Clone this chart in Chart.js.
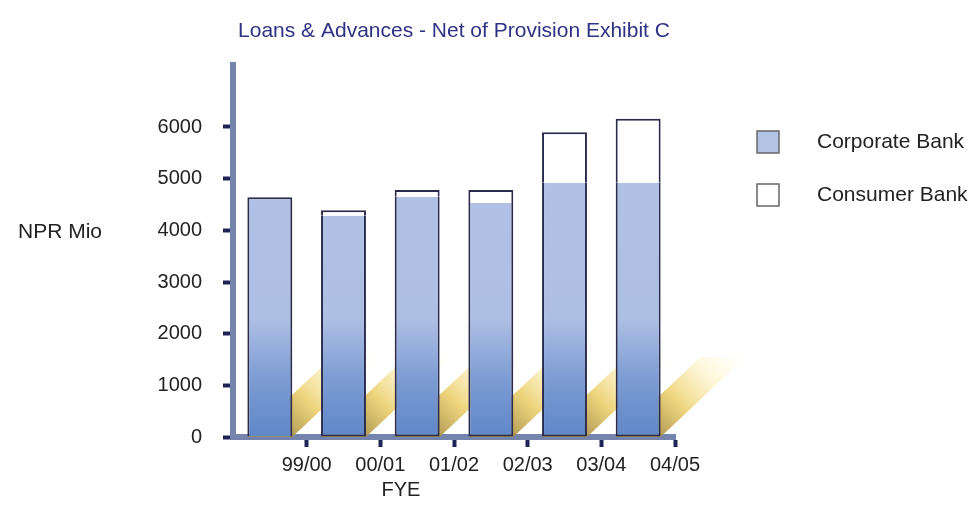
<!DOCTYPE html>
<html>
<head>
<meta charset="utf-8">
<title>Loans & Advances - Net of Provision Exhibit C</title>
<script src="https://cdn.jsdelivr.net/npm/chart.js@4.4.1/dist/chart.umd.min.js"></script>
<style>
  html, body { margin: 0; padding: 0; background: #fff; }
  #wrap { width: 972px; height: 505px; }
</style>
</head>
<body>
<div id="wrap"><canvas id="loansChart" width="972" height="505"></canvas></div>
<script>
// data (NPR Mio)
const fyLabels = ['99/00', '00/01', '01/02', '02/03', '03/04', '04/05'];
const corporateBank = [4640, 4280, 4650, 4530, 4920, 4920];
const consumerBank = [0, 110, 130, 250, 980, 1240];
const yTicks = [0, 1000, 2000, 3000, 4000, 5000, 6000];

const chartTitle = 'Loans & Advances - Net of Provision Exhibit C';
const yTitle = 'NPR Mio';
const xTitle = 'FYE';

const FONT = "'Liberation Sans', Arial, sans-serif";
const CORP_LIGHT = '#b3c3e6';

Chart.defaults.font.family = FONT;
Chart.defaults.font.size = 20;
Chart.defaults.color = '#222';

// gradient for the corporate bars (light on top, deeper blue at the floor)
let corpGradient = null;
function corpFill(c) {
    const { ctx, chartArea } = c.chart;
    if (!chartArea) return CORP_LIGHT;
    if (!corpGradient) {
        corpGradient = ctx.createLinearGradient(0, chartArea.bottom, 0, chartArea.top);
        corpGradient.addColorStop(0, '#5f87c7');
        corpGradient.addColorStop(0.15, '#7b9bd3');
        corpGradient.addColorStop(0.32, '#aebfe4');
        corpGradient.addColorStop(1, CORP_LIGHT);
    }
    return corpGradient;
}

// yellow floor shadows behind each bar
const floorShadow = {
    id: 'floorShadow',
    beforeDatasetsDraw(chart) {
        const ctx = chart.ctx;
        const bottom = chart.chartArea.bottom;
        const dx = 85, dy = 80;
        chart.getDatasetMeta(0).data.forEach(bar => {
            const half = bar.width / 2;
            const l = bar.x - half, r = bar.x + half;
            const g = ctx.createLinearGradient(r, bottom, r + dx, bottom - dy);
            g.addColorStop(0, 'rgba(170,145,70,0.9)');
            g.addColorStop(0.3, 'rgba(232,200,90,0.8)');
            g.addColorStop(0.65, 'rgba(250,228,140,0.35)');
            g.addColorStop(1, 'rgba(255,245,190,0)');
            ctx.save();
            ctx.fillStyle = g;
            ctx.beginPath();
            ctx.moveTo(l, bottom);
            ctx.lineTo(r, bottom);
            ctx.lineTo(r + dx, bottom - dy);
            ctx.lineTo(l + dx, bottom - dy);
            ctx.closePath();
            ctx.fill();
            ctx.restore();
        });
    }
};

// title, axis titles and the legend on the right
const decorations = {
    id: 'decorations',
    afterDraw(chart) {
        const ctx = chart.ctx;
        const area = chart.chartArea;
        ctx.save();
        ctx.textBaseline = 'middle';

        ctx.font = '21px ' + FONT;
        ctx.fillStyle = '#2e3184';
        ctx.textAlign = 'center';
        ctx.fillText(chartTitle, (area.left + area.right) / 2, 31);

        ctx.font = '21px ' + FONT;
        ctx.fillStyle = '#222';
        ctx.textAlign = 'left';
        ctx.fillText(yTitle, 18, 232);

        ctx.font = '20px ' + FONT;
        ctx.textAlign = 'center';
        ctx.fillText(xTitle, area.left + (area.right - area.left) * 0.38, 490);

        ctx.font = '21px ' + FONT;
        ctx.textAlign = 'left';
        chart.data.datasets.forEach((ds, i) => {
            const y = 131 + i * 53;
            ctx.fillStyle = ds.legendColor;
            ctx.fillRect(757, y, 22, 22);
            ctx.strokeStyle = '#666';
            ctx.lineWidth = 1.5;
            ctx.strokeRect(757, y, 22, 22);
            ctx.fillStyle = '#222';
            ctx.fillText(ds.label, 817, y + 11);
        });
        ctx.restore();
    }
};

new Chart(document.getElementById('loansChart'), {
    type: 'bar',
    data: {
        labels: fyLabels,
        datasets: [
            {
                label: 'Corporate Bank',
                data: corporateBank,
                legendColor: CORP_LIGHT,
                backgroundColor: corpFill,
                borderColor: '#2b2b4e',
                borderWidth: 2,
                borderSkipped: c => consumerBank[c.dataIndex] > 0 ? 'top' : 'bottom',
                xAxisID: 'x',
                yAxisID: 'y'
            },
            {
                label: 'Consumer Bank',
                data: consumerBank,
                legendColor: '#ffffff',
                backgroundColor: '#ffffff',
                borderColor: '#2b2b4e',
                borderWidth: c => c.raw > 0 ? 2 : 0,
                borderSkipped: 'bottom',
                xAxisID: 'x',
                yAxisID: 'y'
            }
        ]
    },
    options: {
        responsive: false,
        animation: false,
        devicePixelRatio: 1,
        layout: { padding: { top: 65, right: 297, left: 0, bottom: 0 } },
        categoryPercentage: 1,
        barPercentage: 0.61,
        plugins: {
            legend: { display: false },
            title: { display: false },
            tooltip: { enabled: false }
        },
        scales: {
            x: {
                stacked: true,
                display: false
            },
            x2: {
                type: 'linear',
                axis: 'x',
                position: 'bottom',
                offset: false,
                min: 0,
                max: fyLabels.length,
                afterBuildTicks: s => { s.ticks = fyLabels.map((l, i) => ({ value: i + 1 })); },
                afterFit: s => { s.height = 68; },
                grid: {
                    offset: false,
                    drawOnChartArea: false,
                    drawTicks: true,
                    tickLength: 10,
                    tickWidth: 4,
                    tickColor: '#1e2457'
                },
                border: { display: true, color: '#7584ad', width: 6 },
                ticks: {
                    padding: 6,
                    maxRotation: 0,
                    autoSkip: false,
                    callback: v => fyLabels[v - 1] || ''
                }
            },
            y: {
                stacked: true,
                min: 0,
                max: 7200,
                afterBuildTicks: s => { s.ticks = yTicks.map(v => ({ value: v })); },
                afterFit: s => { s.width = 233; },
                grid: {
                    drawOnChartArea: false,
                    drawTicks: true,
                    tickLength: 10,
                    tickWidth: 4,
                    tickColor: '#1e2457'
                },
                border: { display: true, color: '#7584ad', width: 6 },
                ticks: { padding: 21, callback: v => String(v) }
            }
        }
    },
    plugins: [floorShadow, decorations]
});
</script>
</body>
</html>
